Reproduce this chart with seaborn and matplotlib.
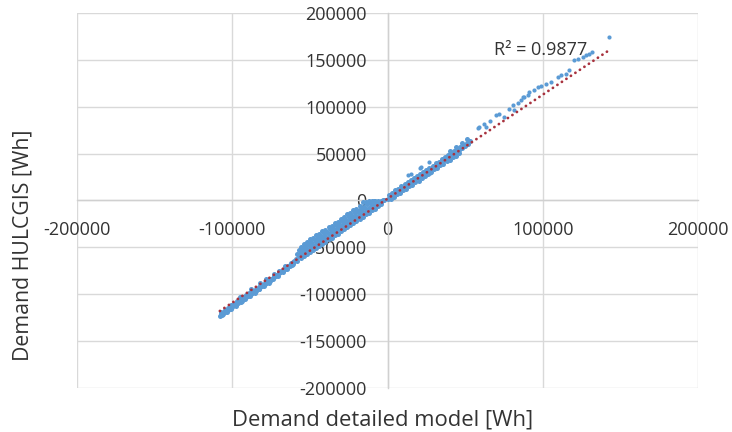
import numpy as np
import matplotlib
matplotlib.use("Agg")
import matplotlib.pyplot as plt
import seaborn as sns

# Hourly demand: detailed building model (x) vs HULCGIS estimate (y), in Wh.
# Cooling hours (large negative demand)
cooling_x = [
    -108000, -107000, -106000, -105000, -104000, -103000, -102000, -101000, -100000, -99000,
    -98000, -97000, -96000, -95000, -94000, -93000, -92000, -91000, -90000, -89000,
    -88000, -87000, -86000, -85000, -84000, -83000, -82000, -81000, -80000, -79000,
    -78000, -77000, -76000, -75000, -74000, -73000, -72000, -71000, -70000, -69000,
    -68000, -67000, -66000, -65000, -64000, -63000, -62000, -61000, -60000, -59000,
    -95000, -88000, -82000, -78000, -73000, -70000, -66000,
    -106500, -103500, -100500, -97500, -94500, -91500, -88500, -85500, -82500, -79500,
    -76500, -73500, -70500, -67500, -64500, -61500,
    -107000, -105000, -103000, -101000, -99000, -97000, -95000, -93000, -91000, -89000,
    -87000, -85000, -83000, -81000, -79000, -77000, -75000, -73000, -71000, -69000,
    -67000, -65000, -63000, -61000,
]
cooling_y = [
    -123500, -121800, -121000, -119500, -118600, -116800, -116300, -114900, -113800, -112200,
    -111800, -110000, -109500, -107800, -107100, -105600, -104200, -103700, -102100, -101400,
    -99800, -99100, -97500, -96600, -95200, -94500, -92800, -91600, -90400, -89500,
    -87900, -86600, -85700, -84100, -83000, -81600, -80700, -79200, -77800, -76900,
    -75300, -73900, -72800, -71200, -69800, -68600, -67200, -65800, -64300, -62600,
    -103000, -94500, -88500, -84000, -78500, -75000, -70500,
    -123000, -119500, -116000, -112500, -109000, -105500, -102000, -98500, -95000, -91500,
    -88000, -84500, -81000, -77000, -73000, -69000,
    -119300, -116600, -114800, -112100, -110400, -107700, -106000, -103300, -101500, -98900,
    -97000, -94300, -92600, -89900, -88100, -85400, -83700, -80900, -79300, -76500,
    -74800, -71900, -70400, -67500,
]

# Moderate cooling hours (dense band up to zero)
mild_x = [
    -58000, -56000, -54000, -52000, -50000, -48000, -46000, -44000, -42000, -40000,
    -38000, -36000, -34000, -32000, -30000, -28000, -26000, -24000, -22000, -20000,
    -18000, -16000, -14000, -12000, -10000, -8000, -6000, -4000,
    -57000, -55000, -53000, -51000, -49000, -47000, -45000, -43000, -41000, -39000,
    -37000, -35000, -33000, -31000, -29000, -27000, -25000, -23000, -21000, -19000,
    -17000, -15000, -13000, -11000, -9000, -7000, -5000, -3000,
    -58000, -56000, -54000, -52000, -50000, -48000, -46000, -44000, -42000, -40000,
    -38000, -36000, -34000, -32000, -30000, -28000, -26000, -24000, -22000, -20000,
    -18000, -16000, -14000, -12000, -10000, -8000, -6000, -4000,
    -57000, -55000, -53000, -51000, -49000, -47000, -45000, -43000, -41000, -39000,
    -37000, -35000, -33000, -31000, -29000, -27000, -25000, -23000, -21000, -19000,
    -17000, -15000, -13000, -11000, -9000,
    -56000, -54000, -52000, -50000, -48000, -46000, -44000, -42000, -40000, -38000,
    -36000, -34000, -32000, -30000, -28000, -26000, -24000, -22000, -20000, -18000,
    -16000, -14000, -12000, -10000, -8000, -6000, -4000, -2000,
]
mild_y = [
    -64300, -61600, -59800, -57200, -55100, -53200, -50600, -48700, -46100, -44000,
    -41700, -39800, -37200, -35400, -32800, -30900, -28300, -26500, -23900, -22000,
    -19400, -17600, -15000, -13100, -10600, -8700, -6100, -4200,
    -59700, -57600, -55300, -53100, -50900, -48700, -46500, -44600, -42000, -39800,
    -37600, -35300, -33400, -31000, -28700, -26800, -24300, -22100, -19800, -17900,
    -15300, -13300, -11000, -9000, -6400, -4600, -2100, 200,
    -57500, -55900, -53400, -51600, -49000, -47200, -44600, -42700, -40100, -38300,
    -35700, -33900, -31200, -29500, -27000, -25000, -22800, -20600, -18400, -16100,
    -14000, -12000, -9500, -7700, -5500, -3500, -2200, -1200,
    -53200, -51700, -48600, -47100, -44200, -42800, -39700, -38300, -35300, -33900,
    -30800, -29400, -26400, -25000, -21900, -20500, -17500, -16100, -13100, -11600,
    -8700, -6500, -4300, -2200, -800,
    -49300, -46200, -44800, -41700, -40300, -37400, -35900, -32800, -31500, -28400,
    -27000, -24000, -22700, -19600, -18100, -15000, -13700, -10700, -9200, -6200,
    -1800, -1200, -900, -600, -400, -300, -100, 0,
]

# Heating hours
heating_x = [
    0, 2000, 4000, 6000, 8000, 10000, 12000, 14000, 16000, 18000,
    20000, 22000, 24000, 26000, 28000, 30000, 32000, 34000, 36000, 38000,
    40000, 42000, 44000, 46000, 48000, 50000, 52000,
    1000, 3000, 5000, 7000, 9000, 11000, 13000, 15000, 17000, 19000,
    21000, 23000, 25000, 27000, 29000, 31000, 33000, 35000, 37000, 39000,
    41000, 43000, 45000, 47000, 49000, 51000, 53000,
    2000, 4000, 6000, 8000, 10000, 12000, 14000, 16000, 18000, 20000,
    22000, 24000, 26000, 28000, 30000, 32000, 34000, 36000, 38000, 40000,
    42000, 44000, 46000,
    40000, 44000, 48000, 51500,
]
heating_y = [
    1500, 4800, 6900, 9000, 11600, 13400, 16000, 17900, 20500, 22600,
    24600, 27200, 29000, 31600, 33500, 36000, 38100, 40500, 42500, 44900,
    47000, 49400, 51500, 53900, 56200, 58400, 60800,
    5600, 8200, 10700, 12600, 15000, 17300, 19500, 21900, 23800, 26200,
    28300, 30700, 32800, 35000, 37300, 39600, 41500, 43900, 46000, 48400,
    50400, 52900, 54900, 57200, 59600, 61700, 64000,
    1800, 3500, 6400, 8000, 10800, 12400, 15300, 16900, 19700, 21300,
    24200, 25800, 28600, 30200, 33100, 34700, 37500, 39100, 42000, 43600,
    46400, 48000, 50900,
    52500, 57000, 61600, 65300,
]

# Isolated hours away from the main band
outlier_x = [
    12900, 15200, 20600, 21700, 27000, 27500,
    58100, 59200, 62400, 63500, 66000, 69900, 72000, 75200, 78500, 80600,
    81700, 84000, 86000, 87000, 88100, 90200, 91300, 94500, 96700, 99000,
    102000, 105300, 109500, 111700, 114900, 117000, 120300, 122400, 125600, 127800,
    129900, 131500, 142800,
]
outlier_y = [
    26700, 28500, 34200, 35600, 41000, 29000,
    77700, 78400, 81300, 78400, 84500, 90900, 92700, 89100, 98100, 101600,
    96300, 104000, 107000, 110500, 110500, 112300, 115800, 117600, 121200, 122500,
    124800, 126500, 131900, 133700, 135500, 140000, 149700, 151500, 153300, 155100,
    156900, 158500, 174700,
]

# Linear trendline and its coefficient of determination
trend_slope = 1.112
trend_intercept = 1900
r2_label = "R² = 0.9877"

x_ticks = [-200000, -100000, 0, 100000, 200000]
y_ticks = [-200000, -150000, -100000, -50000, 0, 50000, 100000, 150000, 200000]

band_x = np.array(cooling_x + mild_x + heating_x, dtype=float)
band_y = np.array(cooling_y + mild_y + heating_y, dtype=float)
all_x = np.concatenate([band_x, outlier_x])

sns.set_theme(style="white")
plt.rcParams["font.family"] = ["Open Sans", "DejaVu Sans"]

fig = plt.figure(figsize=(7.32, 4.32), dpi=100)
ax = fig.add_axes([0.1052, 0.103, 0.8484, 0.866])

point_color = "#5B9BD5"
trend_color = "#A8323E"
grid_color = "#D9D9D9"
text_color = "#333333"

sns.scatterplot(x=band_x, y=band_y, ax=ax, s=13, color=point_color,
                linewidth=0, zorder=3)
sns.scatterplot(x=outlier_x, y=outlier_y, ax=ax, s=9, color=point_color,
                linewidth=0, zorder=3)

trend_x = np.array([all_x.min(), all_x.max()])
trend_y = trend_slope * trend_x + trend_intercept
sns.lineplot(x=trend_x, y=trend_y, ax=ax, color=trend_color, lw=2.0,
             linestyle=(0, (0.05, 1.9)), dash_capstyle="round", zorder=4)

ax.set_xlim(x_ticks[0], x_ticks[-1])
ax.set_ylim(y_ticks[0], y_ticks[-1])
ax.set_xticks(x_ticks)
ax.set_yticks(y_ticks)
ax.set_xticklabels([str(v) for v in x_ticks])
ax.set_yticklabels([str(v) for v in y_ticks])
ax.grid(True, color=grid_color, lw=1)
ax.set_axisbelow(True)

for side in ("top", "right"):
    ax.spines[side].set_visible(False)
for side in ("left", "bottom"):
    ax.spines[side].set_position("zero")
    ax.spines[side].set_color("#D0D0D0")
    ax.spines[side].set_linewidth(1)

ax.tick_params(axis="both", length=0, labelsize=13, labelcolor=text_color)
ax.tick_params(axis="y", pad=15)
ax.tick_params(axis="x", pad=15)
ax.set_xlabel("")
ax.set_ylabel("")

fig.text(0.523, 0.028, "Demand detailed model [Wh]", ha="center", va="center",
         fontsize=15.8, color=text_color)
fig.text(0.031, 0.433, "Demand HULCGIS [Wh]", ha="center", va="center",
         rotation=90, fontsize=15.3, color=text_color)
ax.text(68800, 160400, r2_label, ha="left", va="center", fontsize=13,
        color=text_color, zorder=5)

fig.savefig("out.png", dpi=100, facecolor="white")
